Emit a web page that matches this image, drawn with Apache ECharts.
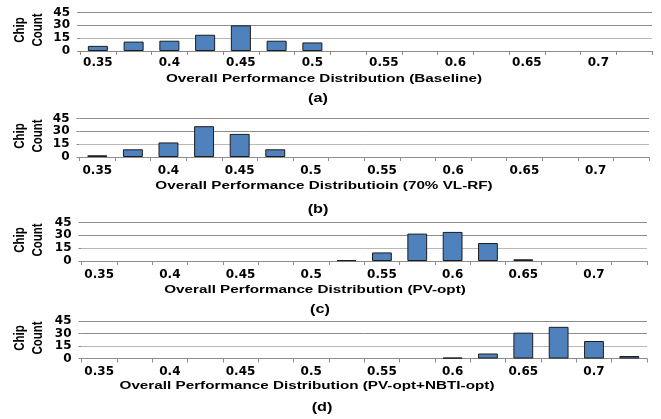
<!DOCTYPE html>
<html>
<head>
<meta charset="utf-8">
<script src="https://cdn.jsdelivr.net/npm/echarts@6/dist/echarts.min.js"></script>
<style>html,body{margin:0;padding:0;background:#fff}#c{width:661px;height:419px}</style>
</head>
<body>
<div id="c"></div>
<script>
// Bins (category centers) and counts
var categories = ['0.35','0.375','0.4','0.425','0.45','0.475','0.5','0.525','0.55','0.575','0.6','0.625','0.65','0.675','0.7','0.725'];
var baseline   = [6, 11, 12, 19, 30, 12, 10, 0, 0, 0, 0, 0, 0, 0, 0, 0];
var vlrf70     = [2, 9, 17, 36, 27, 9, 0, 0, 0, 0, 0, 0, 0, 0, 0, 0];
var pvopt      = [0, 0, 0, 0, 0, 0, 0, 1, 10, 32, 34, 21, 2, 0, 0, 0];
var pvnbti     = [0, 0, 0, 0, 0, 0, 0, 0, 0, 0, 1, 6, 31, 38, 21, 3];
var yTicks = [0, 15, 30, 45];
var xTitles = ['Overall Performance Distribution (Baseline)', 'Overall Performance Distributioin (70% VL-RF)', 'Overall Performance Distribution (PV-opt)', 'Overall Performance Distribution (PV-opt+NBTI-opt)'];
var panelTags = ['(a)', '(b)', '(c)', '(d)'];
var yName = 'Chip\nCount';

var seriesData = [baseline, vlrf70, pvopt, pvnbti];
var grids = [
  {left: 80, right: 9, top: 12.5, height: 38.5},
  {left: 79.5, right: 12, top: 118.5, height: 38.5},
  {left: 81.5, right: 14, top: 222.5, height: 38.5},
  {left: 81.5, right: 14, top: 321, height: 37.5}
];
var labelMargins = [6, 8, 8, 7];
var titlePos = [[324, 79], [324, 186], [315, 290], [307, 386]];
var tagPos = [[318, 99], [318, 210], [320, 310], [322, 408]];
var yNamePos = [[28.5, 30], [28.5, 136], [28.5, 240], [28.5, 338]];

var option = {
  animation: false,
  backgroundColor: '#fff',
  grid: grids,
  xAxis: grids.map(function (g, i) {
    return {
      type: 'category', gridIndex: i, data: categories, boundaryGap: true,
      axisLine: {show: true, lineStyle: {color: '#8c8c8c', width: 1}},
      axisTick: {show: true, interval: 0, length: 4, lineStyle: {color: '#8c8c8c'}},
      axisLabel: {interval: 1, margin: labelMargins[i], fontFamily: 'DejaVu Sans', fontWeight: 'bold', fontSize: 12, color: '#000'}
    };
  }),
  yAxis: grids.map(function (g, i) {
    return {
      type: 'value', gridIndex: i, min: yTicks[0], max: yTicks[yTicks.length - 1], interval: 15,
      axisLine: {show: false},
      axisTick: {show: true, length: 3, lineStyle: {color: '#8c8c8c'}},
      splitLine: {show: true, lineStyle: {color: ['#8c8c8c', '#b8b8b8', '#8c8c8c', '#8c8c8c'], width: 1}},
      axisLabel: {margin: 10, fontFamily: 'DejaVu Sans', fontWeight: 'bold', fontSize: 12, color: '#000'}
    };
  }),
  series: seriesData.map(function (d, i) {
    return {
      type: 'bar', xAxisIndex: i, yAxisIndex: i, data: d.map(function (v) { return v === 0 ? null : v; }),
      barWidth: '56%',
      itemStyle: {color: '#4f81bd', borderColor: '#1c1c1c', borderWidth: 1}
    };
  }),
  graphic: []
};

function addText(txt, pos, size, opts) {
  option.graphic.push(Object.assign({
    type: 'text', x: pos[0], y: pos[1],
    style: {text: txt, x: 0, y: 0, align: 'center', verticalAlign: 'middle', textAlign: 'center', textVerticalAlign: 'middle',
            font: 'bold ' + size + 'px "Liberation Sans"', fill: '#000'}
  }, opts));
}
for (var i = 0; i < 4; i++) {
  addText(xTitles[i], titlePos[i], 11.3, {scaleX: 1.35});
  addText(panelTags[i], tagPos[i], 12.5, {scaleX: 1.3});
  option.graphic.push({
    type: 'text', x: yNamePos[i][0], y: yNamePos[i][1], rotation: Math.PI / 2, scaleY: 1.3,
    style: {text: yName, x: 0, y: 0, align: 'center', verticalAlign: 'middle', textAlign: 'center', textVerticalAlign: 'middle',
            font: 'bold 11.5px "Liberation Sans"', lineHeight: 14, fill: '#000'}
  });
}

var chart = echarts.init(document.getElementById('c'), null, {renderer: 'canvas'});
chart.setOption(option);
</script>
</body>
</html>
